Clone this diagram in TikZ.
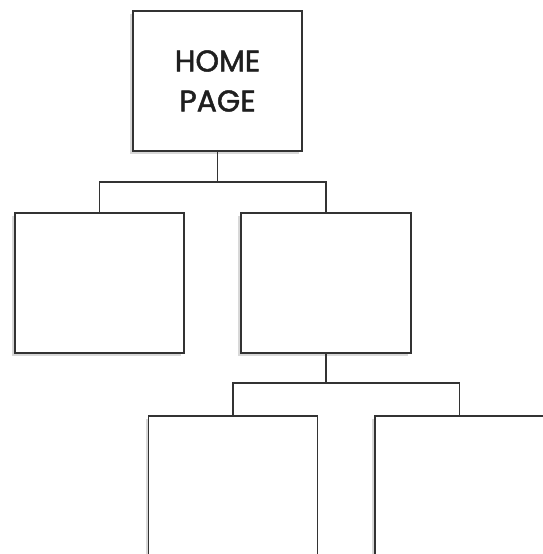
\documentclass[tikz,border=0pt]{standalone}
\usepackage{fontspec}
\setmainfont{Poppins}[FakeBold=1.6]
\usetikzlibrary{shadows}
\definecolor{linec}{HTML}{333333}
\definecolor{shadc}{HTML}{D8D8D8}
\begin{document}
\begin{tikzpicture}[x=1pt,y=1pt,
  pagebox/.style={draw=linec, line width=1.4pt, fill=white, minimum width=169pt, minimum height=140pt, inner sep=0pt,
    drop shadow={shadow xshift=-3pt, shadow yshift=-3pt, fill=shadc, opacity=1}},
  link/.style={draw=linec, line width=1.4pt}]
\useasboundingbox (0,0) rectangle (543,-554);
\node[pagebox, align=center, font=\fontsize{30}{40}\selectfont, text=black!88] (home) at (217.5,-81) {HOME\\PAGE};
\node[pagebox] (left) at (99.5,-283) {};
\node[pagebox, minimum width=170pt] (mid) at (326,-283) {};
\node[pagebox] (ll) at (233,-486) {};
\node[pagebox] (lr) at (459.5,-486) {};
\coordinate (bus1) at (217.5,-182);
\coordinate (bus2) at (326,-383);
\draw[link] (home.south) -- (bus1) -| (left.north);
\draw[link] (bus1) -| (mid.north);
\draw[link] (mid.south) -- (bus2) -| (ll.north);
\draw[link] (bus2) -| (lr.north);
\end{tikzpicture}
\end{document}
